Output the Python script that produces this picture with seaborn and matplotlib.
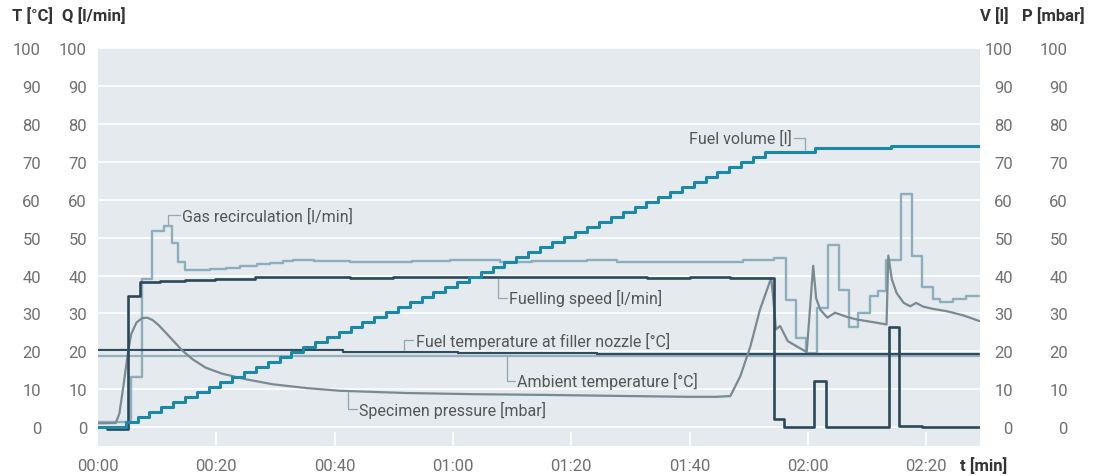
import matplotlib
matplotlib.use("Agg")
import matplotlib.pyplot as plt
import seaborn as sns
import pandas as pd

# ---------------- data (t in minutes) ----------------
vol_t = [0, 4.7, 6.7, 8.7, 10.7, 12.7, 14.7, 16.7, 18.7, 20.7, 22.7, 24.7, 26.7, 28.7,
         30.7, 32.7, 34.7, 36.7, 38.7, 40.7, 42.7, 44.7, 46.7, 48.7, 50.7, 52.7, 54.7,
         56.7, 58.7, 60.7, 62.7, 64.7, 66.7, 68.7, 70.7, 72.7, 74.7, 76.7, 78.7, 80.7,
         82.7, 84.7, 86.7, 88.7, 90.7, 92.7, 94.7, 96.7, 98.7, 100.7, 102.7, 104.7,
         106.7, 108.7, 110.7, 112.7, 121.2, 134.0, 149.0]
vol_v = [0, 1.3, 2.6, 4.0, 5.3, 6.6, 7.9, 9.2, 10.6, 11.9, 13.2, 14.5, 15.8, 17.2,
         18.5, 19.8, 21.1, 22.4, 23.8, 25.1, 26.4, 27.7, 29.0, 30.4, 31.7, 33.0, 34.3,
         35.6, 37.0, 38.3, 39.6, 40.9, 42.2, 43.6, 44.9, 46.2, 47.5, 48.8, 50.2, 51.5,
         52.8, 54.1, 55.4, 56.8, 58.1, 59.4, 60.7, 62.0, 63.4, 64.7, 66.0, 67.3, 68.6,
         70.0, 71.3, 72.6, 73.7, 74.2, 74.2]

speed_t = [0, 1.5, 5.1, 7.1, 10.5, 14.7, 19.8, 26.5, 42.6, 49.9, 92.8, 100.1, 106.9,
           114.3, 116.0, 121.1, 123.1, 133.7, 135.4, 139.3, 149.0]
speed_v = [0, -0.4, 34.7, 38.2, 38.5, 38.8, 39.2, 39.7, 39.4, 39.7, 39.4, 39.7, 39.3,
           2.1, 0, 12.2, 0, 26.5, 0.4, 0, 0]

gas_t = [0, 5.5, 7.4, 9.1, 11.2, 12.5, 13.6, 14.7, 19.0, 21.7, 24.0, 26.8, 29.1, 31.3,
         33.0, 36.5, 42.6, 53.0, 59.5, 68.0, 73.4, 82.6, 87.7, 109.0, 114.3, 116.3,
         118.0, 119.7, 121.6, 123.4, 125.2, 126.9, 128.5, 130.5, 131.8, 133.2, 135.7,
         137.6, 139.3, 141.1, 142.4, 144.6, 146.8, 149.0]
gas_v = [1.4, 13.2, 39.0, 51.7, 53.2, 48.6, 43.5, 41.4, 41.7, 42.1, 42.5, 43.0, 43.4,
         43.8, 44.1, 43.8, 43.5, 43.8, 44.0, 43.5, 43.8, 44.0, 43.5, 44.0, 44.7, 33.6,
         23.5, 19.6, 31.5, 48.2, 36.3, 26.5, 30.0, 34.7, 35.9, 44.0, 61.6, 45.1, 37.0,
         33.7, 33.0, 33.9, 34.7, 34.7]

press_t = [0, 3.0, 3.6, 4.3, 5.0, 5.6, 6.5, 7.5, 8.3, 9.2, 10.2, 11.3, 12.6, 14.2, 16.0,
           18.2, 21.0, 25.1, 29.6, 35.3, 40.9, 52.2, 63.5, 75.8, 90.0, 100.0, 104.5,
           106.9, 108.6, 110.3, 111.9, 113.8, 114.2, 114.6, 115.3, 115.7, 116.6, 117.6,
           119.8, 120.3, 120.9, 121.4, 122.1, 123.3, 124.6, 126.6, 128.3, 131.1, 133.3,
           133.6, 134.2, 135.0, 136.2, 137.3, 138.3, 139.5, 141.2, 143.5, 146.3, 149.0]
press_v = [1.0, 1.1, 3.5, 10.9, 19.0, 24.5, 27.6, 28.8, 28.9, 28.3, 27.0, 25.2, 23.0,
           20.3, 17.9, 15.7, 14.1, 12.6, 11.3, 10.3, 9.6, 9.0, 8.7, 8.5, 8.2, 8.0, 8.0,
           8.2, 13.5, 21.4, 31.0, 39.4, 33.0, 25.8, 26.7, 25.5, 22.7, 21.8, 19.8, 30.0,
           42.6, 34.0, 31.0, 28.9, 30.2, 29.1, 28.4, 27.7, 27.1, 45.3, 39.0, 35.4, 32.8,
           31.9, 32.8, 31.8, 31.2, 30.6, 29.5, 28.0]

ftemp_t = [0, 41.5, 60.9, 84.3, 149.0]
ftemp_v = [20.3, 19.9, 19.7, 19.3, 19.3]

amb_t = [0, 149.0]
amb_v = [18.9, 18.9]

xtick_vals = [0, 20, 40, 60, 80, 100, 120, 140]
xtick_labels = ["00:00", "00:20", "00:40", "01:00", "01:20", "01:40", "02:00", "02:20"]
ytick_vals = list(range(0, 101, 10))

# ---------------- style ----------------
sns.set_style("white")
plt.rcParams['font.family'] = ['Roboto', 'DejaVu Sans']

C_BG = "#e4eaee"
C_VOL = "#1b89a6"
C_SPEED = "#2c4857"
C_FTEMP = "#2f4d5d"
C_GAS = "#8faebd"
C_AMB = "#93b1bf"
C_PRESS = "#7a8a93"
C_LEAD = "#8ea8b5"
C_TXT = "#555555"
C_TICK = "#707070"
C_HEAD = "#333333"

fig = plt.figure(figsize=(11.02, 4.77), dpi=100)
ax = fig.add_axes([98/1102, 1-446.7/477, (980-98)/1102, (446.7-49.3)/477])
ax.set_facecolor(C_BG)

def df(t, v):
    return pd.DataFrame({"t": t, "v": v})

sns.lineplot(data=df(amb_t, amb_v), x="t", y="v", ax=ax, color=C_AMB, lw=1.6,
             estimator=None, sort=False)
sns.lineplot(data=df(gas_t, gas_v), x="t", y="v", ax=ax, color=C_GAS, lw=1.7,
             estimator=None, sort=False, drawstyle="steps-post")
sns.lineplot(data=df(ftemp_t, ftemp_v), x="t", y="v", ax=ax, color=C_FTEMP, lw=1.6,
             estimator=None, sort=False, drawstyle="steps-post")
sns.lineplot(data=df(press_t, press_v), x="t", y="v", ax=ax, color=C_PRESS, lw=1.6,
             estimator=None, sort=False)
sns.lineplot(data=df(speed_t, speed_v), x="t", y="v", ax=ax, color=C_SPEED, lw=1.9,
             estimator=None, sort=False, drawstyle="steps-post")
sns.lineplot(data=df(vol_t, vol_v), x="t", y="v", ax=ax, color=C_VOL, lw=2.2,
             estimator=None, sort=False, drawstyle="steps-post")

ax.set_xlim(0, 149.1)
ax.set_ylim(-4.9, 100)
ax.set_xlabel("")
ax.set_ylabel("")
for s in ax.spines.values():
    s.set_visible(False)

# grid
ax.set_yticks(ytick_vals)
ax.yaxis.grid(True, color="white", lw=1.2)
ax.set_axisbelow(True)
ax.vlines(xtick_vals[1:], -4.9, -1.3, color="white", lw=1.2, zorder=1)

# x ticks
ax.set_xticks(xtick_vals)
ax.set_xticklabels(xtick_labels)
ax.tick_params(axis="x", length=0, pad=9, labelsize=12, labelcolor=C_TICK)
ax.tick_params(axis="y", length=0, pad=11/1.389, labelsize=12, labelcolor=C_TICK)

# extra y tick columns
axT = ax.twinx()
axT.set_ylim(ax.get_ylim())
axT.set_yticks(ytick_vals)
axT.yaxis.tick_left()
axT.tick_params(axis="y", length=0, pad=57/1.389, labelsize=12, labelcolor=C_TICK)

axV = ax.twinx()
axV.set_ylim(ax.get_ylim())
axV.set_yticks(ytick_vals)
axV.tick_params(axis="y", length=0, pad=33/1.389, labelsize=12, labelcolor=C_TICK)
for lab in axV.get_yticklabels():
    lab.set_ha("right")

axP = ax.twinx()
axP.set_ylim(ax.get_ylim())
axP.set_yticks(ytick_vals)
axP.tick_params(axis="y", length=0, pad=88/1.389, labelsize=12, labelcolor=C_TICK)
for lab in axP.get_yticklabels():
    lab.set_ha("right")

for a in (axT, axV, axP):
    for s in a.spines.values():
        s.set_visible(False)
    a.grid(False)

# headers
HFS = 12
fig.text(12/1102, 1-16/477, "T [°C]", fontsize=HFS, fontweight="bold", color=C_HEAD, va="center")
fig.text(62/1102, 1-16/477, "Q [l/min]", fontsize=HFS, fontweight="bold", color=C_HEAD, va="center")
fig.text(980/1102, 1-16/477, "V [l]", fontsize=HFS, fontweight="bold", color=C_HEAD, va="center")
fig.text(1022/1102, 1-16/477, "P [mbar]", fontsize=HFS, fontweight="bold", color=C_HEAD, va="center")
fig.text(960/1102, 1-466/477, "t [min]", fontsize=HFS, fontweight="bold", color=C_HEAD, va="center")

# labels with leader lines
FS = 11.5
def leader(xs, ys):
    ax.plot(xs, ys, color=C_LEAD, lw=0.9, zorder=2)

leader([11.9, 11.9, 13.8], [53.7, 55.9, 55.9])
ax.text(14.2, 55.9, "Gas recirculation [l/min]", fontsize=FS, color=C_TXT, va="center")

leader([117.6, 119.5, 119.5], [76.4, 76.4, 73.2])
ax.text(117.3, 76.4, "Fuel volume [l]", fontsize=FS, color=C_TXT, va="center", ha="right")

leader([67.7, 67.7, 69.1], [39.2, 34.2, 34.2])
ax.text(69.4, 34.2, "Fuelling speed [l/min]", fontsize=FS, color=C_TXT, va="center")

leader([51.7, 51.7, 53.3], [20.3, 23.0, 23.0])
ax.text(53.7, 23.0, "Fuel temperature at filler nozzle [°C]", fontsize=FS, color=C_TXT, va="center")

leader([69.1, 69.1, 70.5], [18.9, 12.2, 12.2])
ax.text(70.9, 12.2, "Ambient temperature [°C]", fontsize=FS, color=C_TXT, va="center")

leader([42.3, 42.3, 43.7], [9.4, 4.7, 4.7])
ax.text(44.1, 4.7, "Specimen pressure [mbar]", fontsize=FS, color=C_TXT, va="center")

fig.savefig("out.png", dpi=100)
